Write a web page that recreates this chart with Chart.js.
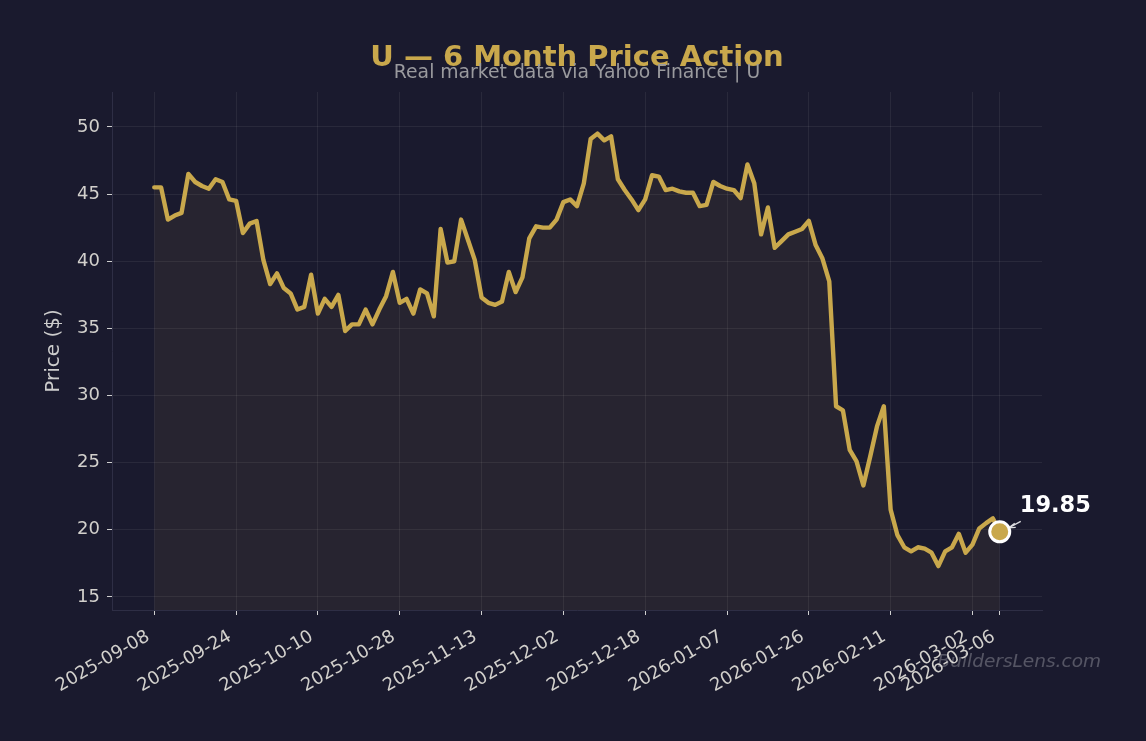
<!DOCTYPE html>
<html>
<head>
<meta charset="utf-8">
<title>U — 6 Month Price Action</title>
<script src="https://cdn.jsdelivr.net/npm/chart.js@4.4.1/dist/chart.umd.min.js"></script>
<style>
  html, body { margin: 0; padding: 0; background: #1a1a2e; }
  #wrap { width: 1146px; height: 741px; }
</style>
</head>
<body>
<div id="wrap"><canvas id="priceChart" width="1146" height="741"></canvas></div>
<script>
const ticker = 'U';

// trading-day index of each labelled tick, and its date
const tickIndex = [0, 12, 24, 36, 48, 60, 72, 84, 96, 108, 120, 124];
const tickLabels = ['2025-09-08', '2025-09-24', '2025-10-10', '2025-10-28', '2025-11-13', '2025-12-02',
                    '2025-12-18', '2026-01-07', '2026-01-26', '2026-02-11', '2026-03-02', '2026-03-06'];
const yTicks = [15, 20, 25, 30, 35, 40, 45, 50];

// daily close, 2025-09-08 .. 2026-03-06 (125 trading days)
const prices = [
  45.5, 45.5, 43.1, 43.4, 43.6, 46.5, 45.9, 45.6, 45.4, 46.1,
  45.9, 44.6, 44.5, 42.1, 42.8, 43.0, 40.1, 38.3, 39.1, 38.0,
  37.6, 36.4, 36.6, 39.0, 36.1, 37.2, 36.6, 37.5, 34.8, 35.3,
  35.3, 36.4, 35.3, 36.4, 37.4, 39.2, 36.9, 37.2, 36.1, 37.9,
  37.6, 35.9, 42.4, 39.9, 40.0, 43.1, 41.6, 40.1, 37.3, 36.9,
  36.75, 37.0, 39.2, 37.7, 38.8, 41.7, 42.6, 42.5, 42.5, 43.1,
  44.4, 44.6, 44.1, 45.8, 49.1, 49.5, 49.0, 49.3, 46.1, 45.3,
  44.6, 43.8, 44.6, 46.4, 46.3, 45.3, 45.4, 45.2, 45.1, 45.1,
  44.1, 44.2, 45.9, 45.6, 45.4, 45.3, 44.7, 47.2, 45.8, 42.0,
  44.0, 41.0, 41.5, 42.0, 42.2, 42.4, 43.0, 41.2, 40.2, 38.5,
  29.2, 28.9, 25.95, 25.1, 23.3, 25.45, 27.7, 29.2, 21.5, 19.6,
  18.7, 18.4, 18.7, 18.6, 18.3, 17.3, 18.4, 18.7, 19.7, 18.3,
  18.9, 20.1, 20.5, 20.85, 19.85
];
const lastIdx = prices.length - 1;
const lastPrice = prices[lastIdx];

const GOLD = '#c9a84c';
const BG = '#1a1a2e';
const FONT = "'DejaVu Sans', sans-serif";
const GRID = 'rgba(255,255,255,0.065)';
const TICK_TEXT = '#d2d0cc';

const decorations = {
  id: 'decorations',
  beforeDraw(chart) {
    const ctx = chart.ctx;
    ctx.save();
    ctx.fillStyle = BG;
    ctx.fillRect(0, 0, chart.width, chart.height);
    ctx.restore();
  },
  afterDraw(chart) {
    const { ctx, chartArea, scales } = chart;
    const cx = (chartArea.left + chartArea.right) / 2;
    ctx.save();

    // title + subtitle
    ctx.textAlign = 'center';
    ctx.textBaseline = 'alphabetic';
    ctx.fillStyle = GOLD;
    ctx.font = 'bold 29px ' + FONT;
    ctx.fillText(ticker + ' — 6 Month Price Action', cx, 66);
    ctx.fillStyle = '#9a9a9e';
    ctx.font = '18.8px ' + FONT;
    ctx.fillText('Real market data via Yahoo Finance | ' + ticker, cx, 78);

    // last price callout with arrow
    const px = scales.x.getPixelForValue(lastIdx);
    const py = scales.y.getPixelForValue(lastPrice);
    ctx.strokeStyle = 'rgba(255,255,255,0.85)';
    ctx.lineWidth = 1.3;
    ctx.beginPath();
    ctx.moveTo(px + 21, py - 10.5);
    ctx.lineTo(px + 9, py - 4);
    ctx.moveTo(px + 9, py - 4);
    ctx.lineTo(px + 15, py - 8.5);
    ctx.moveTo(px + 9, py - 4);
    ctx.lineTo(px + 16, py - 4.5);
    ctx.stroke();
    ctx.fillStyle = '#ffffff';
    ctx.font = 'bold 22.5px ' + FONT;
    ctx.textAlign = 'left';
    ctx.fillText(lastPrice.toFixed(2), px + 20, py - 20);

    // watermark
    ctx.font = 'italic 18.5px ' + FONT;
    ctx.fillStyle = 'rgba(255,255,255,0.26)';
    ctx.textAlign = 'right';
    ctx.textBaseline = 'middle';
    ctx.fillText('BuildersLens.com', chart.width - 45, 662);
    ctx.restore();
  }
};

new Chart(document.getElementById('priceChart'), {
  type: 'line',
  data: {
    datasets: [
      {
        data: [{ x: lastIdx, y: lastPrice }],
        showLine: false,
        pointRadius: 10,
        pointHoverRadius: 10,
        pointBackgroundColor: GOLD,
        pointBorderColor: '#ffffff',
        pointBorderWidth: 3,
        order: 0
      },
      {
        data: prices.map((v, i) => ({ x: i, y: v })),
        borderColor: GOLD,
        borderWidth: 4.4,
        borderJoinStyle: 'round',
        borderCapStyle: 'round',
        pointRadius: 0,
        tension: 0,
        fill: 'start',
        backgroundColor: 'rgba(201,168,76,0.08)',
        order: 1
      }
    ]
  },
  options: {
    responsive: false,
    animation: false,
    devicePixelRatio: 1,
    layout: { padding: { left: 0, right: 104, top: 92, bottom: 0 } },
    plugins: {
      legend: { display: false },
      tooltip: { enabled: false }
    },
    scales: {
      x: {
        type: 'linear',
        min: -6.2,
        max: lastIdx + 6.2,
        afterBuildTicks: (scale) => { scale.ticks = tickIndex.map(v => ({ value: v })); },
        afterFit: (scale) => { scale.height = 131; scale.paddingLeft = 0; scale.paddingRight = 0; },
        ticks: {
          autoSkip: false,
          minRotation: 30,
          maxRotation: 30,
          padding: 11,
          labelOffset: -6,
          color: TICK_TEXT,
          font: { family: FONT, size: 18 },
          callback: (v) => tickLabels[tickIndex.indexOf(v)]
        },
        grid: { color: GRID, tickColor: '#cfcfcf', tickLength: 5 },
        border: { color: '#2e2e45', width: 1 }
      },
      y: {
        min: 14.03,
        max: 52.6,
        afterBuildTicks: (scale) => { scale.ticks = yTicks.map(v => ({ value: v })); },
        afterFit: (scale) => { scale.width = 112; },
        ticks: {
          padding: 7,
          color: TICK_TEXT,
          font: { family: FONT, size: 18 }
        },
        grid: { color: GRID, tickColor: '#cfcfcf', tickLength: 5 },
        border: { color: '#2e2e45', width: 1 },
        title: {
          display: true,
          text: 'Price ($)',
          color: '#cccccc',
          font: { family: FONT, size: 20 },
          padding: { top: 42 }
        }
      }
    }
  },
  plugins: [decorations]
});
</script>
</body>
</html>
